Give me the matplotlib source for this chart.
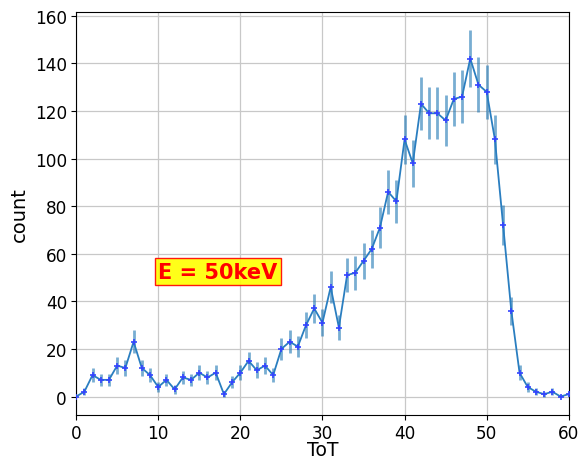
import numpy as np
import matplotlib
matplotlib.use("Agg")
import matplotlib.pyplot as plt

# ToT histogram bins and counts
tot = list(range(0, 61))
counts = [0, 2, 9, 7, 7, 13, 12, 23, 12, 9,
          4, 7, 3, 8, 7, 10, 8, 10, 1, 6,
          10, 15, 11, 13, 9, 20, 23, 21, 30, 37,
          31, 46, 29, 51, 52, 57, 62, 71, 86, 82,
          108, 98, 123, 119, 119, 116, 125, 126, 142, 131,
          128, 108, 72, 36, 10, 4, 2, 1, 2, 0,
          1]
label_text = "E = 50keV"

x = np.array(tot)
y = np.array(counts, dtype=float)
yerr = np.sqrt(y)

fig = plt.figure(figsize=(5.81, 4.60), dpi=100)
ax = fig.add_axes([0.131, 0.096, 0.848, 0.876])

ax.errorbar(x, y, yerr=yerr, fmt='none', ecolor='#1f77b4', elinewidth=2.0,
            alpha=0.6, zorder=2)
ax.plot(x, y, '-', color='#2a7ec0', lw=1.3, zorder=3)
ax.plot(x, y, '+', color='#3344ff', ms=5, mew=1.2, zorder=4)

ax.set_xlim(0, 60)
ax.grid(True, color='#c8c8c8', lw=0.9)
ax.set_axisbelow(True)
ax.tick_params(labelsize=12.2, pad=3)
ax.set_xlabel("ToT", fontsize=13.5, labelpad=-1)
ax.set_ylabel("count", fontsize=14, labelpad=4)

ax.text(10, 52.5, label_text, fontsize=15, fontweight='bold', color='red',
        ha='left', va='center',
        bbox=dict(facecolor='yellow', edgecolor='red', alpha=0.9, pad=2.5))

fig.savefig("out.png", dpi=100)
